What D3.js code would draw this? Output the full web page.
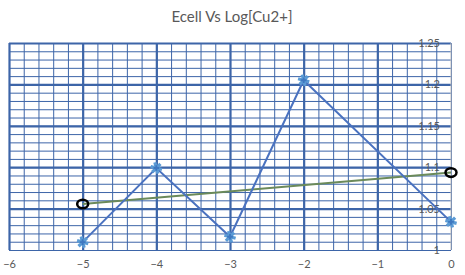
<!DOCTYPE html>
<html>
<head>
<meta charset="utf-8">
<script src="https://cdn.jsdelivr.net/npm/d3@7"></script>
<style>
  body { margin: 0; background: #fff; }
  text { font-family: Lato, "Open Sans", sans-serif; fill: #595959; }
</style>
</head>
<body>
<div id="chart"></div>
<script>
// chart values
const logCu = [-5, -4, -3, -2, 0];
const ecell = [1.0095, 1.099, 1.016, 1.205, 1.034];
const fitX = [-5, 0];
const fitY = [1.0555, 1.0935];
const xTicks = [-6, -5, -4, -3, -2, -1, 0];
const yTicks = [1, 1.05, 1.1, 1.15, 1.2, 1.25];

const W = 465, H = 275;
const margin = { top: 43, right: 14, bottom: 25, left: 9 };
const width = W - margin.left - margin.right;
const height = H - margin.top - margin.bottom;

const svg = d3.select('#chart').append('svg')
  .attr('width', W).attr('height', H);

svg.append('text')
  .attr('x', 232).attr('y', 22)
  .style('text-anchor', 'middle')
  .style('font-size', '15px')
  .text('Ecell Vs Log[Cu2+]');

const g = svg.append('g')
  .attr('transform', `translate(${margin.left},${margin.top})`);

const x = d3.scaleLinear().domain([-6, 0]).range([0, width]);
const y = d3.scaleLinear().domain([1, 1.25]).range([height, 0]);

const gridColor = '#3d65a8';

// minor grid
g.append('g')
  .attr('class', 'grid-minor-x')
  .call(d3.axisBottom(x).tickValues(d3.range(-60, 1, 2).map(v => v / 10)).tickSize(height).tickFormat(''))
  .call(s => s.select('.domain').remove())
  .selectAll('line').attr('stroke', gridColor).attr('stroke-width', 1);

g.append('g')
  .attr('class', 'grid-minor-y')
  .call(d3.axisRight(y).tickValues(d3.range(100, 126, 1).map(v => v / 100)).tickSize(width).tickFormat(''))
  .call(s => s.select('.domain').remove())
  .selectAll('line').attr('stroke', gridColor).attr('stroke-width', 1);

// major grid
g.append('g')
  .attr('class', 'grid-major-x')
  .call(d3.axisBottom(x).tickValues(xTicks.slice(0, -1)).tickSize(height).tickFormat(''))
  .call(s => s.select('.domain').remove())
  .selectAll('line').attr('stroke', gridColor).attr('stroke-width', 2.2);

g.append('g')
  .attr('class', 'grid-major-y')
  .call(d3.axisRight(y).tickValues(yTicks.slice(1)).tickSize(width).tickFormat(''))
  .call(s => s.select('.domain').remove())
  .selectAll('line').attr('stroke', gridColor).attr('stroke-width', 2.2);

// right vertical axis line
g.append('line')
  .attr('x1', x(0)).attr('x2', x(0))
  .attr('y1', 0).attr('y2', height)
  .attr('stroke', '#bfbfbf').attr('stroke-width', 1);

// y labels inside plot at right
g.append('g')
  .attr('class', 'y-axis')
  .attr('transform', `translate(${x(0) - 11},0)`)
  .call(d3.axisLeft(y).tickValues(yTicks).tickSize(0).tickPadding(0).tickFormat(d => d3.format('')(+d.toFixed(2))))
  .call(s => s.select('.domain').remove())
  .selectAll('text').style('font-size', '11px').attr('fill', '#595959')
  .style('font-family', 'Lato, "Open Sans", sans-serif');

// x labels
g.append('g')
  .attr('class', 'x-axis')
  .attr('transform', `translate(0,${height})`)
  .call(d3.axisBottom(x).tickValues(xTicks).tickSize(0).tickPadding(10).tickFormat(d3.format('')))
  .call(s => s.select('.domain').remove())
  .selectAll('text').style('font-size', '11px').attr('fill', '#595959')
  .style('font-family', 'Lato, "Open Sans", sans-serif');

// green line
const fit = fitX.map((v, i) => [v, fitY[i]]);
g.append('path')
  .datum(fit)
  .attr('fill', 'none')
  .attr('stroke', '#6b8a5a')
  .attr('stroke-width', 2)
  .attr('d', d3.line().x(d => x(d[0])).y(d => y(d[1])));

g.selectAll('.fit-pt')
  .data(fit)
  .enter().append('ellipse')
  .attr('class', 'fit-pt')
  .attr('cx', d => x(d[0])).attr('cy', d => y(d[1]))
  .attr('rx', 5.5).attr('ry', 4.3)
  .attr('fill', 'none')
  .attr('stroke', '#000')
  .attr('stroke-width', 2.5);

// blue series
const pts = logCu.map((v, i) => [v, ecell[i]]);
g.append('path')
  .datum(pts)
  .attr('fill', 'none')
  .attr('stroke', '#4a72c0')
  .attr('stroke-width', 2)
  .attr('d', d3.line().x(d => x(d[0])).y(d => y(d[1])));

const star = d3.symbol().type(d3.symbolAsterisk).size(95);
g.selectAll('.pt')
  .data(pts)
  .enter().append('path')
  .attr('class', 'pt')
  .attr('transform', d => `translate(${x(d[0])},${y(d[1])}) rotate(45)`)
  .attr('d', star)
  .attr('fill', 'none')
  .attr('stroke', '#5b9bd5')
  .attr('stroke-width', 3.2);

g.selectAll('.pt2')
  .data(pts)
  .enter().append('path')
  .attr('class', 'pt2')
  .attr('transform', d => `translate(${x(d[0])},${y(d[1])})`)
  .attr('d', d3.symbol().type(d3.symbolCross).size(18))
  .attr('fill', '#3f78c0');
</script>
</body>
</html>
